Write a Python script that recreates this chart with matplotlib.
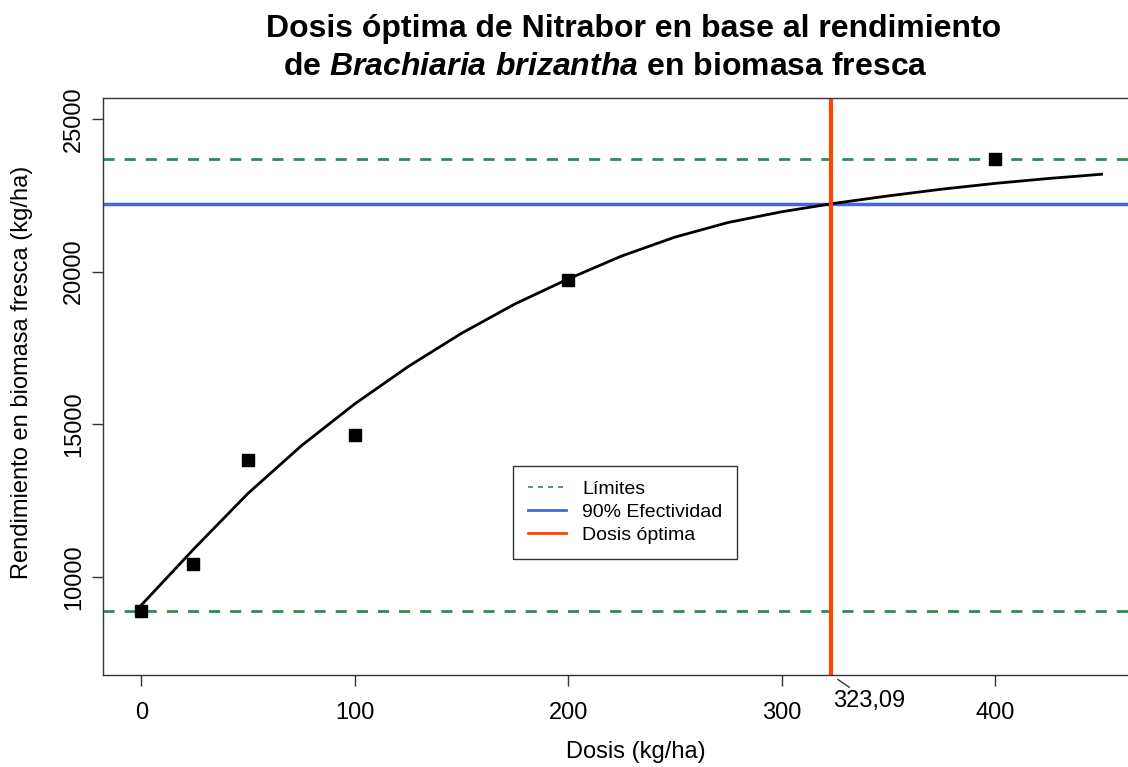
import matplotlib.pyplot as plt
from matplotlib.lines import Line2D

# datos observados
dosis = [0, 24, 50, 100, 200, 400]
rendimiento = [8886, 10430, 13830, 14650, 19730, 23690]

# curva ajustada
curva_x = [0, 25, 50, 75, 100, 125, 150, 175, 200, 225, 250, 275, 300, 325, 350, 375, 400, 425, 450]
curva_y = [9083, 10950, 12740, 14300, 15670, 16890, 17980, 18940, 19760, 20510, 21130, 21610,
           21960, 22240, 22480, 22700, 22890, 23050, 23190]

limite_inf = 8886
limite_sup = 23690
efect_90 = 22210
dosis_optima = 323.09
xticks = [0, 100, 200, 300, 400]
yticks = [10000, 15000, 20000, 25000]

plt.rcParams['font.family'] = 'Liberation Sans'
plt.rcParams['mathtext.fontset'] = 'custom'
plt.rcParams['mathtext.rm'] = 'Liberation Sans:bold'
plt.rcParams['mathtext.it'] = 'Liberation Sans:bold:italic'

W, H = 1128, 767
fig = plt.figure(figsize=(W / 100, H / 100), dpi=100)
ax = fig.add_axes([103 / W, 1 - 674.7 / H, (1140 - 103) / W, (674.7 - 97.6) / H])

verde = '#2E8B57'
azul = '#4169E1'
naranja = '#FF4500'

ax.axhline(limite_sup, color=verde, lw=2, dashes=(4, 3.6))
ax.axhline(limite_inf, color=verde, lw=2, dashes=(4, 3.6))
ax.axhline(efect_90, color=azul, lw=2.5)
ax.plot(curva_x, curva_y, color='black', lw=2)
ax.axvline(dosis_optima, color=naranja, lw=3)
ax.plot(dosis, rendimiento, 's', color='black', ms=8)

ax.set_xlim(-18, 468)
ax.set_ylim(6800, 25700)
ax.set_xticks(xticks)
ax.set_yticks(yticks)
ax.tick_params(axis='both', labelsize=17, length=8, width=1, color='#333333')
ax.tick_params(axis='x', pad=12)
ax.tick_params(axis='y', pad=5)
for lab in ax.get_yticklabels():
    lab.set_rotation(90)
    lab.set_va('center')
for s in ['left', 'bottom', 'top']:
    ax.spines[s].set_color('#333333')
    ax.spines[s].set_linewidth(1)
ax.spines['right'].set_visible(False)

ax.annotate('323,09', xy=(dosis_optima, 6800), xycoords='data',
            xytext=(2, -19), textcoords='offset points', fontsize=17,
            ha='left', va='center', annotation_clip=False,
            arrowprops=dict(arrowstyle='-', color='#333333', lw=1, shrinkA=0, shrinkB=6))

ax.set_xlabel('Dosis (kg/ha)', fontsize=17)
ax.xaxis.set_label_coords((636 - 103) / (1140 - 103), -(752 - 674.7) / (674.7 - 97.6))
ax.xaxis.label.set_va('center')
ax.set_ylabel('Rendimiento en biomasa fresca (kg/ha)', fontsize=17)
ax.yaxis.set_label_coords(-(103 - 22) / (1140 - 103), (674.7 - 372.5) / (674.7 - 97.6))
ax.yaxis.label.set_va('center')

fig.text(633.5 / W, 1 - 37 / H, 'Dosis óptima de Nitrabor en base al rendimiento',
         fontsize=23, fontweight='bold', ha='center', va='baseline')
fig.text(605 / W, 1 - 75 / H, r'de $\mathit{Brachiaria\ brizantha}$ en biomasa fresca',
         fontsize=23, fontweight='bold', ha='center', va='baseline')

handles = [Line2D([], [], color=verde, lw=1.2, dashes=(3, 3)),
           Line2D([], [], color=azul, lw=2),
           Line2D([], [], color=naranja, lw=2)]
labels = ['Límites', '90% Efectividad', 'Dosis óptima']
leg = fig.legend(handles, labels, loc='upper left', bbox_to_anchor=(513 / W, 1 - 466 / H),
                 borderaxespad=0, fontsize=14, frameon=True, fancybox=False,
                 handlelength=2, handletextpad=0.8, labelspacing=0.27, borderpad=0.75)
leg.get_frame().set_edgecolor('black')
leg.get_frame().set_linewidth(1)

fig.savefig('out.png', dpi=100)
